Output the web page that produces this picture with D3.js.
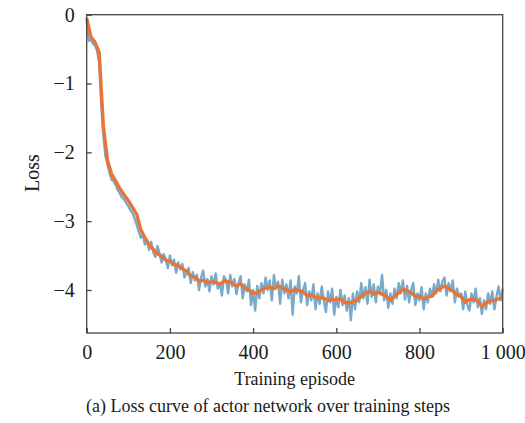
<!DOCTYPE html>
<html>
<head>
<meta charset="utf-8">
<script src="https://cdn.jsdelivr.net/npm/d3@7"></script>
<style>
  html, body { margin: 0; padding: 0; background: #fff; }
  svg { display: block; }
  text { font-family: "Liberation Serif", "Times New Roman", serif; fill: #1a1a1a; }
</style>
</head>
<body>
<svg id="chart" width="525" height="423"></svg>
<script>
// ---- data ----
const xTicks = [0, 200, 400, 600, 800, 1000];
const xTickLabels = ["0", "200", "400", "600", "800", "1 000"];
const yTicks = [0, -1, -2, -3, -4];
const yTickLabels = ["0", "\u22121", "\u22122", "\u22123", "\u22124"];
const xLabel = "Training episode";
const yLabel = "Loss";
const caption = "(a) Loss curve of actor network over training steps";

// raw loss, every 5 episodes (0..1000)
const rawStep = 5;
const rawLoss = [
  -0.10, -0.38, -0.36, -0.42, -0.45, -0.52, -0.70, -1.30, -1.75, -2.05,
  -2.18, -2.30, -2.40, -2.42, -2.48, -2.55, -2.60, -2.66, -2.68, -2.74,
  -2.78, -2.84, -2.88, -2.96, -3.05, -3.15, -3.24, -3.20, -3.34, -3.28,
  -3.42, -3.30, -3.45, -3.52, -3.36, -3.47, -3.60, -3.48, -3.55, -3.68,
  -3.50, -3.64, -3.56, -3.75, -3.60, -3.70, -3.62, -3.82, -3.75, -3.68,
  -3.90, -3.74, -3.86, -3.78, -4.00, -3.82, -3.72, -3.95, -3.84, -4.02,
  -3.80, -3.92, -3.76, -3.98, -3.90, -4.08, -3.80, -3.86, -4.05, -3.78,
  -3.95, -3.84, -4.06, -3.90, -3.80, -4.12, -3.92, -4.02, -3.85, -4.22,
  -4.00, -4.30, -3.94, -4.12, -3.90, -4.05, -3.82, -4.00, -3.86, -4.15,
  -3.78, -3.98, -3.88, -4.20, -3.85, -4.05, -3.92, -4.12, -3.86, -4.36,
  -3.95, -4.05, -3.80, -4.18, -4.00, -3.90, -4.22, -4.02, -4.15, -3.92,
  -4.28, -4.05, -4.20, -3.95, -4.15, -4.32, -4.02, -4.18, -3.98, -4.36,
  -4.10, -4.25, -4.00, -4.22, -4.08, -4.30, -4.12, -4.44, -4.05, -4.28,
  -4.02, -4.18, -3.90, -4.12, -3.96, -4.20, -3.85, -4.10, -3.92, -4.18,
  -3.95, -4.06, -3.78, -4.15, -4.00, -4.26, -4.05, -4.20, -3.98, -4.12,
  -3.90, -4.05, -3.86, -4.14, -3.94, -4.18, -4.00, -3.90, -4.22, -4.05,
  -4.15, -3.96, -4.28, -4.05, -4.18, -3.98, -4.10, -3.92, -4.05, -3.85,
  -4.02, -3.88, -3.82, -4.08, -3.90, -4.02, -3.86, -4.18, -3.98, -4.10,
  -4.05, -4.28, -4.02, -4.22, -4.30, -4.05, -4.18, -3.98, -4.25, -4.12,
  -4.35, -4.15, -4.28, -4.05, -4.20, -4.02, -4.28, -4.10, -3.95, -4.15,
  -3.98
];

// smoothed loss, every 10 episodes (0..1000)
const smoothStep = 10;
const smoothLoss = [
  -0.05, -0.32, -0.40, -0.55, -1.62, -2.12, -2.32, -2.42, -2.53, -2.62,
  -2.70, -2.80, -2.90, -3.12, -3.24, -3.34, -3.41, -3.47, -3.51, -3.57,
  -3.58, -3.63, -3.64, -3.69, -3.73, -3.80, -3.81, -3.87, -3.86, -3.89,
  -3.88, -3.89, -3.92, -3.87, -3.88, -3.90, -3.94, -3.91, -3.97, -4.00,
  -4.05, -4.04, -4.00, -3.97, -3.96, -3.98, -3.94, -3.97, -3.99, -4.03,
  -3.99, -4.01, -4.03, -4.08, -4.07, -4.11, -4.11, -4.12, -4.15, -4.14,
  -4.14, -4.13, -4.18, -4.19, -4.17, -4.15, -4.09, -4.05, -4.02, -4.06,
  -4.03, -4.06, -4.09, -4.15, -4.09, -4.04, -3.99, -4.01, -4.04, -4.09,
  -4.09, -4.13, -4.10, -4.09, -4.01, -3.98, -3.94, -3.98, -4.01, -4.07,
  -4.09, -4.18, -4.14, -4.13, -4.16, -4.24, -4.19, -4.16, -4.15, -4.13,
  -4.10
];

// ---- drawing ----
const svg = d3.select("#chart");
const pLeft = 86.7, pRight = 502.7, pTop = 14.7, pBottom = 333;

const x = d3.scaleLinear().domain([0, 1000]).range([pLeft, pRight]);
const y = d3.scaleLinear().domain([-4.625, 0]).range([pBottom, pTop]);

const axisColor = "#444";

// lines
const line = d3.line().x(d => x(d[0])).y(d => y(d[1]));
const rawPts = rawLoss.map((v, i) => [i * rawStep, v]);
const smPts = smoothLoss.map((v, i) => [i * smoothStep, v]);

svg.append("path").datum(rawPts)
  .attr("d", line).attr("fill", "none")
  .attr("stroke", "#7aaac9").attr("stroke-width", 2.4)
  .attr("stroke-linejoin", "round");

svg.append("path").datum(smPts)
  .attr("d", line)
  .attr("fill", "none")
  .attr("stroke", "#e8743a").attr("stroke-width", 3.4)
  .attr("stroke-linejoin", "round");

// frame
svg.append("rect")
  .attr("x", pLeft).attr("y", pTop)
  .attr("width", pRight - pLeft).attr("height", pBottom - pTop)
  .attr("fill", "none").attr("stroke", axisColor).attr("stroke-width", 1.3);

// x axis (inward ticks)
const xAxis = d3.axisBottom(x).tickValues(xTicks).tickSizeInner(-5).tickSizeOuter(0)
  .tickFormat((d, i) => xTickLabels[i]).tickPadding(12);
const gx = svg.append("g").attr("transform", `translate(0,${pBottom})`).call(xAxis);
gx.select(".domain").remove();
gx.selectAll(".tick line").attr("stroke", axisColor).attr("stroke-width", 1.3);
gx.selectAll(".tick text").attr("font-size", 20).attr("font-family", "Liberation Serif").attr("fill", "#1a1a1a");

// y axis (inward ticks)
const yAxis = d3.axisLeft(y).tickValues(yTicks).tickSizeInner(-5).tickSizeOuter(0)
  .tickFormat((d, i) => yTickLabels[i]).tickPadding(12);
const gy = svg.append("g").attr("transform", `translate(${pLeft},0)`).call(yAxis);
gy.select(".domain").remove();
gy.selectAll(".tick line").attr("stroke", axisColor).attr("stroke-width", 1.3);
gy.selectAll(".tick text").attr("font-size", 20).attr("font-family", "Liberation Serif").attr("fill", "#1a1a1a");

// labels
svg.append("text").attr("x", (pLeft + pRight) / 2).attr("y", 385)
  .attr("text-anchor", "middle").attr("font-size", 18).text(xLabel);

svg.append("text").attr("transform", "translate(39,173) rotate(-90)")
  .attr("text-anchor", "middle").attr("font-size", 20).text(yLabel);

svg.append("text").attr("x", 268).attr("y", 412)
  .attr("text-anchor", "middle").attr("font-size", 18).text(caption);
</script>
</body>
</html>
